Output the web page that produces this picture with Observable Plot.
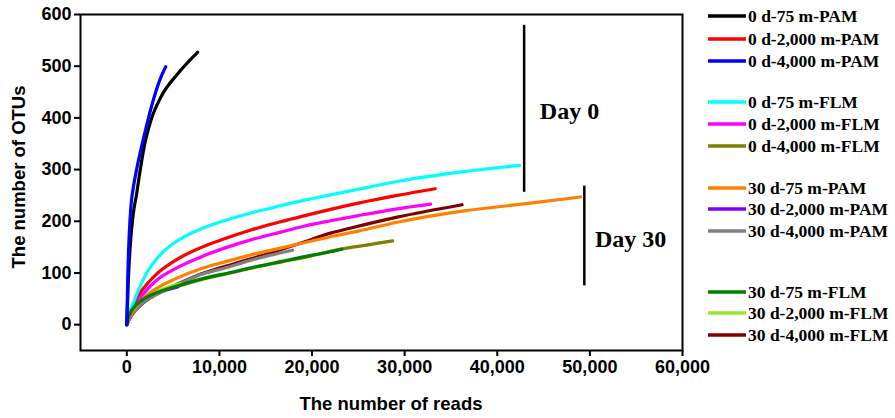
<!DOCTYPE html>
<html>
<head>
<meta charset="utf-8">
<script src="https://cdn.jsdelivr.net/npm/d3@7"></script>
<script src="https://cdn.jsdelivr.net/npm/@observablehq/plot@0.6"></script>
<style>
  body { margin: 0; background: #fff; }
  #chart svg { display: block; }
</style>
</head>
<body>
<div id="chart"></div>
<script>
// Rarefaction curves: [number of reads, number of OTUs]
const d0_75_PAM = [[0,0],[150,80],[400,160],[700,215],[1050,252],[1350,288],[1870,344],[2600,395],[3670,440],[5480,485],[7640,527]];
const d0_2000_PAM = [[0,0],[400,27],[800,43],[1700,68],[3100,96],[5300,125],[8000,149],[10700,167],[13400,183],[16600,199],[19000,210],[22000,223],[25000,235],[29200,250],[33300,263]];
const d0_4000_PAM = [[0,0],[100,90],[250,170],[450,230],[700,265],[1000,295],[1500,337],[2200,390],[2950,440],[3600,475],[4200,499]];
const d0_75_FLM = [[0,0],[300,24],[600,38],[1150,62],[2050,97],[3500,133],[6000,168],[8000,185],[10700,202],[13400,216],[16600,230],[19000,240],[22000,251],[25000,262],[29200,277],[36400,296],[42400,308]];
const d0_2000_FLM = [[0,0],[400,22],[800,36],[1700,58],[3100,84],[5300,109],[8000,131],[10700,149],[13400,164],[16600,179],[19000,190],[22000,201],[25000,211],[29200,224],[32800,233]];
const d0_4000_FLM = [[0,0],[150,13],[400,23],[800,33],[1700,47],[3100,60],[5300,73],[8000,87],[11200,100],[13900,111],[16600,121],[19900,133],[23100,146],[25900,154],[28700,162]];
const d30_75_PAM = [[0,0],[400,18],[800,30],[1700,49],[3100,69],[5300,89],[8000,108],[10700,122],[13400,135],[16600,148],[19000,158],[22000,170],[25000,181],[29200,198],[36400,220],[43600,235],[49000,247]];
const d30_2000_PAM = [[0,0],[150,13],[400,23],[800,33],[1700,47],[3100,60],[4500,68],[5500,73]];
const d30_4000_PAM = [[0,0],[400,16],[800,26],[1700,42],[3100,57],[5300,76],[8000,97],[10700,110],[12700,121],[15200,133],[17900,144]];
const d30_75_FLM = [[0,0],[150,14],[400,24],[800,34],[1700,48],[3100,61],[5300,74],[8000,88],[11200,101],[13900,112],[16600,122],[19900,134],[22000,141],[23200,146]];
const d30_2000_FLM = [[0,0],[150,14],[400,24],[800,35],[1700,49],[3100,63],[4500,73],[5800,79]];
const d30_4000_FLM = [[0,0],[400,15],[800,25],[1700,41],[3100,58],[5300,77],[8000,98],[11600,118],[15200,137],[18800,158],[22000,177],[24200,187],[29200,208],[36200,232]];

const seriesNames = [
  "0 d-75 m-PAM", "0 d-2,000 m-PAM", "0 d-4,000 m-PAM",
  "0 d-75 m-FLM", "0 d-2,000 m-FLM", "0 d-4,000 m-FLM",
  "30 d-75 m-PAM", "30 d-2,000 m-PAM", "30 d-4,000 m-PAM",
  "30 d-75 m-FLM", "30 d-2,000 m-FLM", "30 d-4,000 m-FLM"
];
const seriesValues = [
  d0_75_PAM, d0_2000_PAM, d0_4000_PAM,
  d0_75_FLM, d0_2000_FLM, d0_4000_FLM,
  d30_75_PAM, d30_2000_PAM, d30_4000_PAM,
  d30_75_FLM, d30_2000_FLM, d30_4000_FLM
];
const seriesColors = [
  "#000000", "#ff0000", "#0000ff",
  "#00ffff", "#ff00ff", "#808000",
  "#ff8000", "#8000ff", "#808080",
  "#008000", "#99e633", "#800000"
];
// painting order (later ones on top)
const drawOrder = [11, 5, 7, 8, 10, 6, 4, 1, 3, 9, 0, 2];

const xTicks = [0, 10000, 20000, 30000, 40000, 50000, 60000];
const yTicks = [0, 100, 200, 300, 400, 500, 600];

// sampling-day brackets
const dayLabels = ["Day 0", "Day 30"];
const dayBracketReads = [42900, 49400];
const dayBracketLow = [256, 75];
const dayBracketHigh = [579, 268];
const dayLabelReads = [44600, 50540];
const dayLabelOtus = [412, 166];

const xTitle = "The number of reads";
const yTitle = "The number of OTUs";

const rows = seriesValues.flatMap((pts, i) =>
  pts.map(([reads, otus]) => ({series: seriesNames[i], reads, otus})));
const days = dayLabels.map((label, i) => ({
  label, x: dayBracketReads[i], lo: dayBracketLow[i], hi: dayBracketHigh[i],
  lx: dayLabelReads[i], ly: dayLabelOtus[i]
}));

const serif = "'Liberation Serif', 'Times New Roman', serif";
const sans = "'Liberation Sans', Arial, sans-serif";

const chart = Plot.plot({
  width: 895,
  height: 418,
  marginLeft: 80,
  marginRight: 213,
  marginTop: 14,
  marginBottom: 68,
  style: {fontFamily: sans, fontWeight: "bold", fontSize: "18px", color: "#000", background: "#fff"},
  x: {domain: [-5000, 60000]},
  y: {domain: [-50, 600]},
  marks: [
    Plot.axisX({ticks: xTicks, tickFormat: d3.format(","), tickSize: 6, tickPadding: 4, strokeWidth: 2, label: null, fontSize: 18}),
    Plot.axisY({ticks: yTicks, tickSize: 6, tickPadding: 3, strokeWidth: 2, label: null, fontSize: 18}),
    ...drawOrder.map(i => Plot.line(rows.filter(r => r.series === seriesNames[i]), {
      x: "reads", y: "otus", stroke: seriesColors[i], strokeWidth: 3.2, curve: "monotone-x"
    })),
    Plot.frame({stroke: "#000", strokeWidth: 2}),
    Plot.ruleX(days, {x: "x", y1: "lo", y2: "hi", stroke: "#000", strokeWidth: 2.5}),
    Plot.text(days, {x: "lx", y: "ly", text: "label", textAnchor: "start", fontFamily: serif, fontSize: 24, fontWeight: "bold", fill: "#000"})
  ]
});

document.getElementById("chart").appendChild(chart);

const svg = d3.select(chart);

// axis titles
svg.append("text")
  .attr("x", 391).attr("y", 404).attr("dy", "0.35em")
  .attr("text-anchor", "middle").attr("font-family", sans)
  .attr("font-size", 18.5).attr("font-weight", "bold").attr("fill", "#000")
  .text(xTitle);
svg.append("text")
  .attr("transform", "translate(19,177) rotate(-90)").attr("dy", "0.35em")
  .attr("text-anchor", "middle").attr("font-family", sans)
  .attr("font-size", 18.5).attr("font-weight", "bold").attr("fill", "#000")
  .text(yTitle);

// legend on the right of the frame
const legendRowY = [16, 39, 61, 102, 124, 146, 188, 209, 231, 292, 313, 335];
const legend = svg.append("g").attr("class", "legend");
seriesNames.forEach((name, i) => {
  const g = legend.append("g").attr("transform", `translate(0,${legendRowY[i]})`);
  g.append("line").attr("x1", 708).attr("x2", 746).attr("y1", 0).attr("y2", 0)
    .attr("stroke", seriesColors[i]).attr("stroke-width", 3.5);
  g.append("text").attr("x", 748).attr("y", 0).attr("dy", "0.35em")
    .attr("text-anchor", "start")
    .attr("font-family", serif).attr("font-size", 17.5).attr("font-weight", "bold")
    .attr("fill", "#000").text(name);
});
</script>
</body>
</html>
